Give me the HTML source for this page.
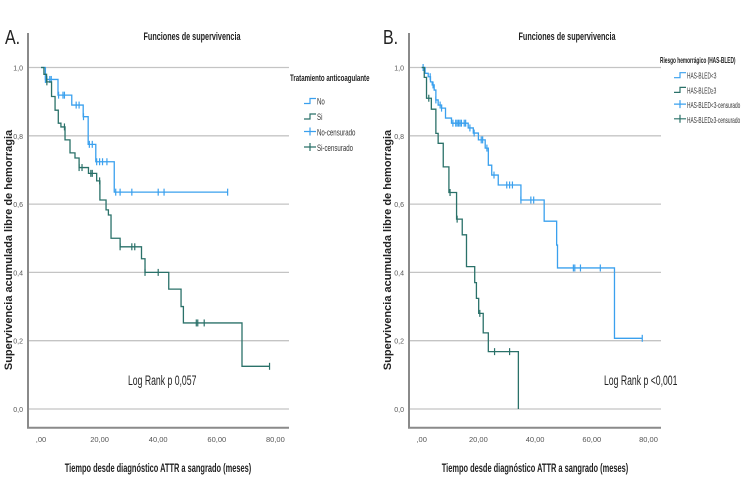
<!DOCTYPE html>
<html><head><meta charset="utf-8"><style>
body{margin:0;background:#fff;}
svg{display:block;font-family:"Liberation Sans",sans-serif;}
</style></head><body>
<svg id="c" width="750" height="500"></svg>
<script>
// Panel A data
const aNoT=[0,1.5,5.8,10.5,14.4,16.1,18.7,25,63.7];
const aNoS=[1,0.965,0.919,0.89,0.856,0.775,0.724,0.635,0.635];
const aNoCens=[1.5,2,3,3.5,6,7.5,8,12,13,14.5,16.5,17.5,19,20,21,22.5,25.5,27,31,40,42,63.7];
const aSiT=[0,1,1.9,3.6,4.8,5.9,6.8,8.2,9.9,11.6,13,16.2,19,20.1,22.2,23,23.9,27,34.3,35.5,43.6,47.8,48.6,68.6,78];
const aSiS=[1,0.98,0.958,0.915,0.875,0.837,0.826,0.788,0.75,0.735,0.707,0.69,0.668,0.612,0.583,0.568,0.5,0.475,0.44,0.4,0.351,0.3,0.252,0.125,0.125];
const aSiCens=[2,8,13,14,17,17.5,20,27,31,32,35.5,40,53,53.5,55.7,78];
// Panel B data
const bLoT=[0,1.2,2.3,3.1,3.7,4.4,5,5.8,7,8.4,10.5,16.4,18.2,20,22.4,23.5,24.7,27,35,43.2,47.6,47.9,68,77.8];
const bLoS=[1,0.983,0.973,0.958,0.949,0.934,0.905,0.89,0.881,0.852,0.837,0.823,0.808,0.788,0.764,0.714,0.685,0.656,0.612,0.55,0.48,0.413,0.207,0.207];
const bLoCens=[0.5,3,4,5,6.5,7,11,12,12.5,13,13.5,14,15,15.5,17,18.5,21,21.5,23,25.5,30,31,32,35,38.5,39.5,53.5,54,56,63,77.8];
const bHiT=[0,0.9,1.7,3.4,5,5.8,7.6,9.6,12.3,14.3,15.8,18.7,19.3,20.1,21.7,23.5,34.1];
const bHiS=[1,0.971,0.91,0.878,0.807,0.778,0.709,0.634,0.556,0.51,0.417,0.37,0.324,0.28,0.223,0.168,0];
const bHiCens=[2.5,10,12.5,20.5,25.7,31];
const yTicks=[0,0.2,0.4,0.6,0.8,1.0];
const yTickLabels=["0,0","0,2","0,4","0,6","0,8","1,0"];
const xTicks=[0,20,40,60,80];
const xTickLabels=[",00","20,00","40,00","60,00","80,00"];

const BLUE="#3aa0ee",GREEN="#2a7169";
const svg=document.getElementById('c');
const NS="http://www.w3.org/2000/svg";
function mk(tag,at,parent){const e=document.createElementNS(NS,tag);for(const k in at)e.setAttribute(k,at[k]);(parent||svg).appendChild(e);return e;}
const yS=v=>409-341.5*v;

function panel(P){
  const g=mk('g',{});
  
  
  const xS=t=>P.x0+P.k*t;
  yTicks.forEach((v,i)=>{
    const l=mk('line',{x1:P.axX,x2:P.gridR,y1:yS(v),y2:yS(v),stroke:'#c4c4c4','stroke-width':1.3},g);
    
    
    const t=mk('text',{x:P.axX-5,y:yS(v)+3,'font-size':7,fill:'#555','text-anchor':'end'},g);
    t.textContent=yTickLabels[i];
    
    
  });
  xTicks.forEach((v,i)=>{
    const t=mk('text',{x:xS(v),y:442,'font-size':7.5,fill:'#555','text-anchor':'middle'},g);
    t.textContent=xTickLabels[i];
    
    
  });
  const ax=mk('path',{d:`M${P.axX},33 V427.7 H${P.gridR}`,fill:'none',stroke:'#8a8a8a','stroke-width':2},g);
  
  
  P.series.forEach(s=>{
    let d=`M${xS(s.t[0])},${yS(s.s[0])}`;
    for(let i=1;i<s.t.length;i++){d+=` H${xS(s.t[i])} V${yS(s.s[i])}`;}
    const p=mk('path',{d:d,fill:'none',stroke:s.c,'stroke-width':1.3},g);
    
    
    s.cens.forEach(ct=>{
      let v=s.s[0];for(let i=0;i<s.t.length;i++){if(s.t[i]<=ct)v=s.s[i];}
      const m=mk('path',{d:`M${xS(ct)},${yS(v)-3.5} v7`,stroke:s.c,'stroke-width':1.2},g);
      
      
    });
  });
}
panel({name:'panel-a',x0:41,k:2.93,axX:28,gridR:289,series:[
 {name:'series-no',t:aNoT,s:aNoS,cens:aNoCens,c:BLUE},
 {name:'series-si',t:aSiT,s:aSiS,cens:aSiCens,c:GREEN}]});
panel({name:'panel-b',x0:421.7,k:2.835,axX:409,gridR:661,series:[
 {name:'series-hasbled-lt3',t:bLoT,s:bLoS,cens:bLoCens,c:BLUE},
 {name:'series-hasbled-ge3',t:bHiT,s:bHiS,cens:bHiCens,c:GREEN}]});

function txt(x,y,s,str,name,extra){
  const t=mk('text',Object.assign({x:x,y:y,'font-size':s,fill:'#222'},extra||{}));
  t.textContent=str;
  
  
  return t;
}
txt(5/0.8,44,20,'A.','panel-a-label',{transform:'scale(0.8,1)'});
txt(383/0.8,44,20,'B.','panel-b-label',{transform:'scale(0.8,1)'});
txt(192/0.66,40,11,'Funciones de supervivencia','chart-title-a',{'text-anchor':'middle','font-weight':'bold',transform:'scale(0.66,1)'});
txt(567/0.66,40,11,'Funciones de supervivencia','chart-title-b',{'text-anchor':'middle','font-weight':'bold',transform:'scale(0.66,1)'});
txt(158/0.62,472,12,'Tiempo desde diagnóstico ATTR a sangrado (meses)','x-axis-title-a',{'text-anchor':'middle','font-weight':'bold',transform:'scale(0.62,1)'});
txt(535/0.62,472,12,'Tiempo desde diagnóstico ATTR a sangrado (meses)','x-axis-title-b',{'text-anchor':'middle','font-weight':'bold',transform:'scale(0.62,1)'});
txt(0,0,11,'Supervivencia acumulada libre de hemorragia','y-axis-title-a',{'text-anchor':'middle','font-weight':'bold',transform:'translate(12,250) rotate(-90)'});
txt(0,0,11,'Supervivencia acumulada libre de hemorragia','y-axis-title-b',{'text-anchor':'middle','font-weight':'bold',transform:'translate(391,250) rotate(-90)'});
txt(128/0.62,385,14,'Log Rank p 0,057','log-rank-a',{transform:'scale(0.62,1)'});
txt(604/0.62,385,14,'Log Rank p <0,001','log-rank-b',{transform:'scale(0.62,1)'});

function legend(x,y,title,items,step,name,fs,sc){
  txt(x/sc,y,fs,title,name+'-title',{'font-weight':'bold',transform:`scale(${sc},1)`});
  items.forEach((it,i)=>{
    const yy=y+ (i+1)*step + (name==='legend-a'?7:0);
    const ic=mk('path',{d:it.cens?`M${x+14},${yy-3} h12 M${x+20},${yy-7} v8`:`M${x+14},${yy} h6 v-5 h6`,fill:'none',stroke:it.c,'stroke-width':1.2});
    
    
    txt((x+27)/sc,yy+1,fs,it.label,'legend-entry',{transform:`scale(${sc},1)`,fill:'#333'});
  });
}
legend(290,81,'Tratamiento anticoagulante',[{label:'No',c:BLUE},{label:'Si',c:GREEN},{label:'No-censurado',c:BLUE,cens:1},{label:'Si-censurado',c:GREEN,cens:1}],15.5,'legend-a',9,0.68);
legend(660,63,'Riesgo hemorrágico (HAS-BLED)',[{label:'HAS-BLED<3',c:BLUE},{label:'HAS-BLED≥3',c:GREEN},{label:'HAS-BLED<3-censurado',c:BLUE,cens:1},{label:'HAS-BLED≥3-censurado',c:GREEN,cens:1}],14.7,'legend-b',8,0.6);
</script>
</body></html>
